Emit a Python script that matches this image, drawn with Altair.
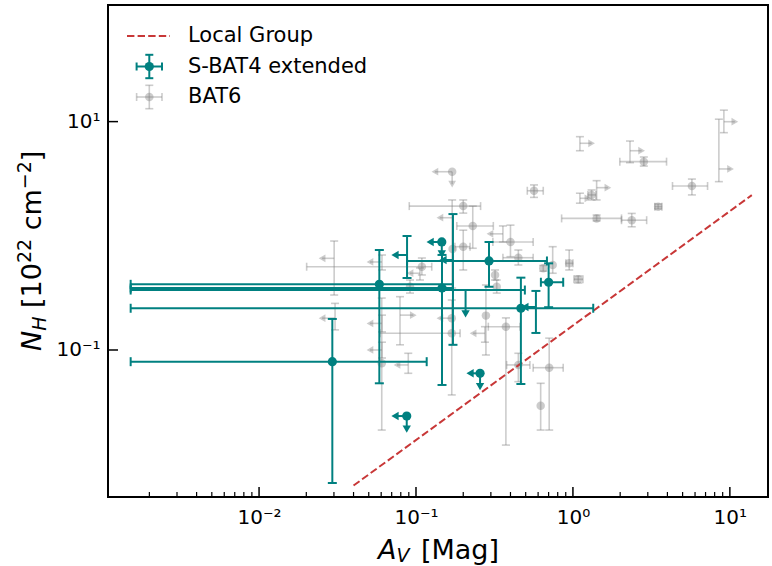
import altair as alt
import pandas as pd

FONT = "DejaVu Sans"
TEAL = "#008080"
GREY = "#808080"
RED = "#c83737"

# ---------------- data ----------------
# S-BAT4 extended
sb_av = [0.0293, 0.0584, 0.292, 0.1465, 0.700, 0.466, 0.0877, 0.172, 0.207, 0.581, 0.146, 0.256, 0.0873]
sb_nh = [0.079, 0.376, 0.602, 0.349, 0.392, 0.232, 0.679, 0.614, 0.335, 0.238, 0.883, 0.0625, 0.0264]
sb_av_lo = [0.00152, 0.00152, 0.0877, 0.00152, 0.625, 0.00152, None, None, 0.00152, None, None, None, None]
sb_av_hi = [0.117, 0.172, 0.683, 0.172, 0.867, 1.347, None, None, 0.494, None, None, None, None]
sb_nh_lo = [0.00684, 0.0511, 0.358, 0.0494, 0.237, 0.0504, 0.427, 0.111, None, 0.141, None, None, None]
sb_nh_hi = [0.187, 0.751, 0.883, 0.68, 0.574, 0.430, 0.996, 1.55, None, 0.329, None, None, None]
sb_av_limit = [None, None, None, None, None, None, 0.0735, 0.1486, None, 0.494, 0.123, 0.221, 0.0735]
sb_nh_limit = [None, None, None, None, None, None, None, None, 0.207, None, 0.693, 0.0477, 0.0203]
sb_marker = [True, True, True, True, True, True, False, False, False, False, True, True, True]

# BAT6
b6_av = [9.16, 8.51, 1.108, 2.31, 2.83, 0.565, 1.315, 1.416, 1.108, 5.73,
         3.49, 1.416, 2.37, 0.947, 0.743, 1.081, 0.647, 0.170, 0.170, 0.200,
         0.230, 0.400, 0.200, 0.171, 0.449, 0.358, 0.109, 0.0301, 0.0305, 0.0607,
         0.0607, 0.0607, 0.0605, 0.0893, 0.0791, 0.0916, 0.106, 0.169, 0.169, 0.279,
         0.275, 0.374, 0.449, 0.706, 0.623, 0.319, 0.327]
b6_nh = [9.98, 3.85, 6.46, 5.56, 4.46, 2.48, 2.28, 2.64, 2.13, 2.73,
         1.80, 1.42, 1.37, 0.574, 0.555, 0.416, 0.519, 3.64, 1.44, 1.82,
         1.22, 0.883, 0.803, 0.766, 0.643, 1.04, 0.536, 0.635, 0.190, 0.590,
         0.171, 0.100, 0.0765, 0.0740, 0.202, 0.358, 0.470, 0.190, 0.140, 0.200,
         0.140, 0.160, 0.0740, 0.0700, 0.0325, 0.454, 0.358]
b6_av_lo = [None, None, None, None, 1.99, 0.512, 1.246, None, None, 4.31,
            3.33, 0.847, 2.04, 0.902, None, 1.015, None, None, None, 0.0906,
            0.182, 0.309, 0.177, None, 0.358, None, 0.0201, None, None, None,
            None, None, None, None, None, None, None, None, 0.059, None,
            None, 0.289, 0.378, 0.558, None, None, None]
b6_av_hi = [None, None, None, None, 3.95, 0.647, 1.401, None, None, 7.21,
            3.69, 2.04, 2.95, 1.0, None, 1.158, None, None, None, 0.258,
            0.311, 0.558, 0.221, None, 0.558, None, 0.126, None, None, None,
            None, None, None, None, None, None, None, None, 0.191, None,
            None, 0.460, 0.532, 0.867, None, None, None]
b6_nh_lo = [8.00, 2.98, 5.56, 4.37, 4.08, 2.17, 2.06, 2.06, 1.93, 2.28,
            1.72, 1.35, 1.20, 0.502, 0.470, 0.386, 0.49, None, 0.349, 1.58,
            0.778, 0.656, 0.502, None, 0.555, 0.883, 0.454, 0.303, 0.150, 0.502,
            0.144, 0.0851, 0.0199, 0.0625, 0.111, 0.315, 0.41, 0.0404, None, 0.0904,
            0.117, 0.0147, 0.0528, 0.0199, 0.0199, 0.410, 0.315]
b6_nh_hi = [12.6, 10.5, 7.38, 6.76, 4.90, 2.79, 2.52, 3.04, 2.36, 3.14,
            1.90, 1.52, 1.57, 0.751, 0.803, 0.445, 0.55, None, 2.06, 2.06,
            1.82, 1.24, 1.12, None, 0.751, 1.22, 0.639, 0.900, 0.256, 0.679,
            0.202, 0.117, 0.285, 0.0936, 0.293, 0.410, 0.523, 0.274, None, 0.371,
            0.160, 0.191, 0.0936, 0.127, 0.0511, 0.502, 0.410]
b6_av_limit = [10.76, 10.1, 1.315, 2.74, None, None, None, 1.671, 1.246, None,
               None, None, None, None, None, None, None, 0.132, 0.142, None,
               None, None, None, None, None, 0.296, None, 0.0252, 0.0252, 0.0509,
               0.0509, 0.0509, None, 0.0757, 0.0961, None, 0.0916, 0.142, None, None,
               0.231, None, None, None, None, None, None]
b6_nh_limit = [None] * 17 + [2.83] + [None] * 29
b6_marker = [False, False, False, False, True, True, True, False, False, True,
             True, True, True, True, True, True, True, True, False, True,
             True, True, True, True, True, False, True, False, False, False,
             False, False, True, False, False, True, False, True, True, True,
             False, True, True, True, True, True, True]

# Local Group relation (end points of the dashed line)
lg_av = [0.04, 13.8]
lg_nh = [0.0065, 2.27]

# axis ticks
x_major = [0.01, 0.1, 1, 10]
x_minor = [m * 10.0 ** e for e in (-3, -2, -1, 0) for m in range(2, 10)] + [20]
y_major = [0.1, 10]
exp_labels = ["10\u207b\u00b2", "10\u207b\u00b9", "10\u2070", "10\u00b9"]  # exponents -2..1

XDOM = [0.00109, 17.5]
YDOM = [0.00516, 105]
W, H = 660, 492

xscale = alt.Scale(type="log", domain=XDOM, nice=False)
yscale = alt.Scale(type="log", domain=YDOM, nice=False)
label_expr = "[" + ",".join("'%s'" % s for s in exp_labels) + "][round(log(datum.value)/LN10)+2]"
xaxis = alt.Axis(values=x_major, labelExpr=label_expr, ticks=False, domain=False, grid=False,
                 title=None, labelFont=FONT, labelFontSize=20, labelColor="black",
                 labelPadding=10, labelOverlap=False, labelFlush=False)
yaxis = alt.Axis(values=y_major, labelExpr=label_expr, ticks=False, domain=False, grid=False,
                 title=None, labelFont=FONT, labelFontSize=20, labelColor="black",
                 labelPadding=8, labelOverlap=False, labelFlush=False)


def X(f):
    return alt.X(f + ":Q", scale=xscale, axis=xaxis)


def Y(f):
    return alt.Y(f + ":Q", scale=yscale, axis=yaxis)


def build(av, nh, av_lo, av_hi, nh_lo, nh_hi, av_lim, nh_lim, marker):
    segs, vcaps, hcaps, heads, dots = [], [], [], [], []
    for i in range(len(av)):
        x, y = av[i], nh[i]
        if av_lo[i] is not None:
            segs.append((av_lo[i], av_hi[i], y, y))
            vcaps += [(av_lo[i], y), (av_hi[i], y)]
        if nh_lo[i] is not None:
            segs.append((x, x, nh_lo[i], nh_hi[i]))
            hcaps += [(x, nh_lo[i]), (x, nh_hi[i])]
        if av_lim[i] is not None:
            segs.append((x, av_lim[i], y, y))
            heads.append((av_lim[i], y, "triangle-left" if av_lim[i] < x else "triangle-right"))
        if nh_lim[i] is not None:
            segs.append((x, x, y, nh_lim[i]))
            heads.append((x, nh_lim[i], "triangle-down"))
        if marker[i]:
            dots.append((x, y))
    return (pd.DataFrame(segs, columns=["x", "x2", "y", "y2"]),
            pd.DataFrame(vcaps, columns=["x", "y"]),
            pd.DataFrame(hcaps, columns=["x", "y"]),
            pd.DataFrame(heads, columns=["x", "y", "shape"]),
            pd.DataFrame(dots, columns=["x", "y"]))


def series_layers(frames, color, op, lw, cap, head, dot):
    segs, vcaps, hcaps, heads, dots = frames
    return [
        alt.Chart(segs).mark_rule(color=color, opacity=op, strokeWidth=lw, clip=True).encode(
            x=X("x"), x2="x2:Q", y=Y("y"), y2="y2:Q"),
        alt.Chart(vcaps).mark_tick(orient="vertical", color=color, opacity=op, size=cap,
                                   thickness=lw, clip=True).encode(x=X("x"), y=Y("y")),
        alt.Chart(hcaps).mark_tick(orient="horizontal", color=color, opacity=op, size=cap,
                                   thickness=lw, clip=True).encode(x=X("x"), y=Y("y")),
        alt.Chart(heads).mark_point(filled=True, color=color, opacity=op, size=head,
                                    strokeWidth=0, clip=True).encode(
            x=X("x"), y=Y("y"), shape=alt.Shape("shape:N", scale=None)),
        alt.Chart(dots).mark_circle(color=color, opacity=op, size=dot, clip=True).encode(
            x=X("x"), y=Y("y")),
    ]


layers = []
layers += series_layers(build(b6_av, b6_nh, b6_av_lo, b6_av_hi, b6_nh_lo, b6_nh_hi,
                              b6_av_limit, b6_nh_limit, b6_marker), GREY, 0.4, 1.6, 8, 60, 72)

lg_df = pd.DataFrame({"x": lg_av, "y": lg_nh})
layers.append(alt.Chart(lg_df).mark_line(color=RED, strokeWidth=2, strokeDash=[7.4, 3.2]).encode(
    x=X("x"), y=Y("y")))

layers += series_layers(build(sb_av, sb_nh, sb_av_lo, sb_av_hi, sb_nh_lo, sb_nh_hi,
                              sb_av_limit, sb_nh_limit, sb_marker), TEAL, 1.0, 2, 9, 70, 85)

# inward ticks
layers.append(alt.Chart(pd.DataFrame({"v": x_major})).mark_rule(color="black", strokeWidth=1.5).encode(
    x=X("v"), y=alt.value(H), y2=alt.value(H - 10)))
layers.append(alt.Chart(pd.DataFrame({"v": [v for v in x_minor if XDOM[0] < v < XDOM[1]]})).mark_rule(
    color="black", strokeWidth=1.2).encode(x=X("v"), y=alt.value(H), y2=alt.value(H - 5)))
layers.append(alt.Chart(pd.DataFrame({"v": y_major})).mark_rule(color="black", strokeWidth=1.5).encode(
    y=Y("v"), x=alt.value(0), x2=alt.value(10)))

one = pd.DataFrame({"a": [0]})


def txt(s, x, y, size, italic=False, angle=0, baseline="alphabetic"):
    kw = dict(text=s, font=FONT, fontSize=size, align="left", baseline=baseline, color="black")
    if italic:
        kw["fontStyle"] = "italic"
    if angle:
        kw["angle"] = angle
    return alt.Chart(one).mark_text(**kw).encode(x=alt.value(x), y=alt.value(y))


# axis titles
layers += [
    txt("A", 270, 554, 27, italic=True),
    txt("V", 288.5, 557, 19, italic=True),
    txt("[Mag]", 313, 554, 27),
    txt("N", -67, 346, 27, italic=True, angle=270),
    txt("H", -62, 325.8, 19, italic=True, angle=270),
    txt("[10", -67, 303, 27, angle=270),
    txt("22", -77.5, 258, 19, angle=270),
    txt("cm", -67, 225.3, 27, angle=270),
    txt("\u22122", -77.5, 184.2, 19, angle=270),
    txt("]", -67, 156.2, 27, angle=270),
]


# legend
def rule_px(x1, x2, y1, y2, color, op, lw, dash=None):
    kw = dict(color=color, opacity=op, strokeWidth=lw)
    if dash:
        kw["strokeDash"] = dash
    return alt.Chart(one).mark_rule(**kw).encode(
        x=alt.value(x1), x2=alt.value(x2), y=alt.value(y1), y2=alt.value(y2))


def err_symbol(cx, cy, color, op, lw, size):
    hw, hh, c = 12.7, 11.7, 4
    return [
        rule_px(cx - hw, cx + hw, cy, cy, color, op, lw),
        rule_px(cx, cx, cy - hh, cy + hh, color, op, lw),
        rule_px(cx - hw, cx - hw, cy - c, cy + c, color, op, lw),
        rule_px(cx + hw, cx + hw, cy - c, cy + c, color, op, lw),
        rule_px(cx - c, cx + c, cy - hh, cy - hh, color, op, lw),
        rule_px(cx - c, cx + c, cy + hh, cy + hh, color, op, lw),
        alt.Chart(one).mark_circle(color=color, opacity=op, size=size).encode(
            x=alt.value(cx), y=alt.value(cy)),
    ]


layers.append(rule_px(19, 62, 31, 31, RED, 1, 2, [7.4, 3.2]))
layers.append(txt("Local Group", 80, 31, 21, baseline="middle"))
layers += err_symbol(41.3, 61.5, TEAL, 1, 2, 85)
layers.append(txt("S-BAT4 extended", 80, 61.5, 21, baseline="middle"))
layers += err_symbol(41.3, 92, GREY, 0.4, 1.6, 72)
layers.append(txt("BAT6", 80, 92, 21, baseline="middle"))

chart = alt.layer(*layers).properties(
    width=W, height=H,
    autosize=alt.AutoSizeParams(type="none"),
    padding={"left": 108, "top": 5, "right": 4, "bottom": 69},
    background="white",
).configure_view(stroke="black", strokeWidth=2)

chart.save("out.html", embed_options={"renderer": "svg", "actions": False})
